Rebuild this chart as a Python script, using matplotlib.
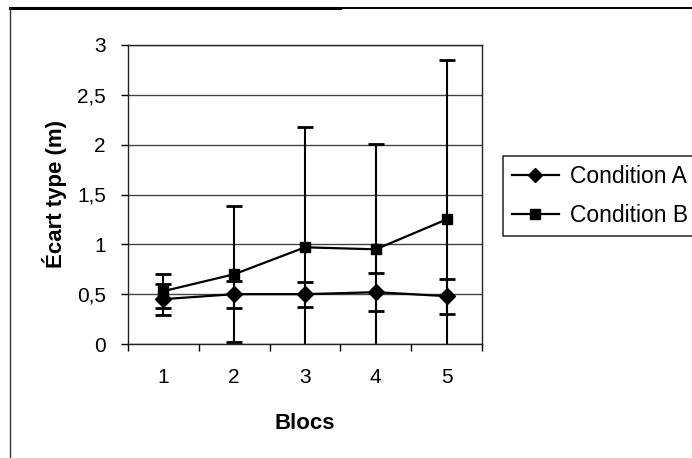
import matplotlib
matplotlib.use("Agg")
import matplotlib.pyplot as plt
from matplotlib.lines import Line2D
from matplotlib.ticker import FixedLocator, FuncFormatter

plt.rcParams['font.family'] = ['Liberation Sans', 'DejaVu Sans']

blocs = [1, 2, 3, 4, 5]
cond_a = [0.45, 0.50, 0.50, 0.52, 0.48]
cond_a_err = [0.155, 0.135, 0.125, 0.19, 0.175]
cond_b = [0.53, 0.70, 0.97, 0.95, 1.25]
cond_b_err = [0.17, 0.68, 1.21, 1.06, 1.60]
yticks = [0, 0.5, 1, 1.5, 2, 2.5, 3]
labels = ['Condition A', 'Condition B']

fig = plt.figure(figsize=(6.92, 4.58), dpi=100)
ax = fig.add_axes([128/692, 1-344/458, 354/692, 299/458])

styles = [('D', 8), ('s', 7.5)]
handles = []
for vals, err, (mk, ms), lab in zip([cond_a, cond_b], [cond_a_err, cond_b_err], styles, labels):
    ax.errorbar(blocs, vals, yerr=err, color='black', lw=1.6, marker=mk, ms=ms,
                capsize=5.5, capthick=2, elinewidth=1.5, zorder=3)
    handles.append(Line2D([], [], color='black', lw=1.6, marker=mk, ms=ms - 1, label=lab))

ax.set_xlim(0.5, 5.5)
ax.set_ylim(0, 3)
ax.set_yticks(yticks)
ax.yaxis.set_major_formatter(FuncFormatter(lambda v, p: ('%g' % v).replace('.', ',')))
ax.set_xticks(blocs)
ax.xaxis.set_minor_locator(FixedLocator([0.5, 1.5, 2.5, 3.5, 4.5, 5.5]))
ax.tick_params(axis='x', which='major', length=0, pad=17, labelsize=15)
ax.tick_params(axis='x', which='minor', length=5, width=1, direction='out')
ax.tick_params(axis='y', length=5, width=1, direction='out', pad=11, labelsize=15)

ax.grid(axis='y', color='#444444', lw=1)
ax.set_axisbelow(True)
for s in ax.spines.values():
    s.set_color('#222222')
    s.set_linewidth(1)

ax.set_ylabel('Écart type (m)', fontsize=16, fontweight='bold')
ax.yaxis.set_label_coords(-0.172, 0.5)
ax.set_xlabel('Blocs', fontsize=16, fontweight='bold')
ax.xaxis.set_label_coords(0.5, -0.23)

leg = fig.legend(handles=handles, loc='upper left', bbox_to_anchor=(503/692, 1-156/458),
                 borderaxespad=0, fontsize=16.5,
                 frameon=True, fancybox=False, edgecolor='black', borderpad=0.38,
                 handlelength=2.05, handletextpad=0.48, labelspacing=0.72)
leg.get_frame().set_linewidth(1.2)

# figure border
fig.add_artist(Line2D([10/692, 340/692], [1-8/458, 1-8/458], color='black', lw=2.2,
                      transform=fig.transFigure))
fig.add_artist(Line2D([340/692, 1], [1-8/458, 1-8/458], color='black', lw=1.4,
                      transform=fig.transFigure))
fig.add_artist(Line2D([10/692, 10/692], [0, 1-8/458], color='#333333', lw=1,
                      transform=fig.transFigure))

fig.savefig('out.png', dpi=100)
